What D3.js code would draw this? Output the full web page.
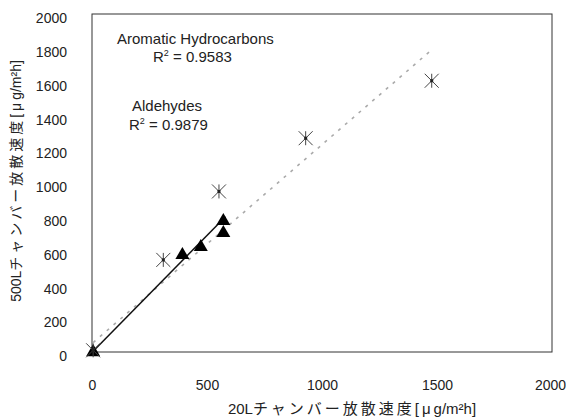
<!DOCTYPE html>
<html>
<head>
<meta charset="utf-8">
<script src="https://cdn.jsdelivr.net/npm/d3@7"></script>
<style>
  html, body { margin: 0; padding: 0; background: #fff; }
  svg { display: block; }
  text { font-family: "Liberation Sans", Arial, "Noto Sans CJK JP", sans-serif; fill: #222; }
</style>
</head>
<body>
<svg id="chart" width="566" height="418"></svg>
<script>
// Emission rates: 20 L chamber (x) vs 500 L chamber (y), µg/m²h
const aromaticX = [5, 310, 552, 929, 1477];
const aromaticY = [10, 545, 950, 1265, 1605];
const aldehydeX = [5, 393, 473, 571, 571];
const aldehydeY = [5, 580, 627, 781, 710];

// Linear trendline end points
const aromaticTrendX = [5, 1470];
const aromaticTrendY = [56, 1780];
const aldehydeTrendX = [5, 580];
const aldehydeTrendY = [5, 800];

const xTicks = [0, 500, 1000, 1500, 2000];
const yTicks = [0, 200, 400, 600, 800, 1000, 1200, 1400, 1600, 1800, 2000];

// Axis titles, split into Latin prefix, Japanese body and unit
const xTitleParts = ["20L", "チャンバー放散速度", "[μg/m²h]"];
const yTitleParts = ["500L", "チャンバー放散速度", "[μg/m²h]"];

const svg = d3.select("#chart");
const plotL = 92, plotR = 552, plotT = 14, plotB = 352;

const x = d3.scaleLinear().domain([0, 2000]).range([plotL, plotR]);
const y = d3.scaleLinear().domain([0, 2000]).range([plotB, plotT]);

// Plot frame
svg.append("rect")
  .attr("x", plotL).attr("y", plotT)
  .attr("width", plotR - plotL).attr("height", plotB - plotT)
  .attr("fill", "none").attr("stroke", "#333").attr("stroke-width", 1);

// Axes (labels only, no tick marks)
const yAxis = d3.axisLeft(y).tickValues(yTicks).tickSize(0).tickPadding(25).tickFormat(d3.format("d"));
const gy = svg.append("g").attr("transform", `translate(${plotL},0)`).call(yAxis);
gy.select(".domain").remove();
gy.selectAll("text").attr("font-size", 14).attr("dy", "0.62em")
  .style("font-family", "\"Liberation Sans\", Arial, sans-serif").attr("fill", "#222");

const xAxis = d3.axisBottom(x).tickValues(xTicks).tickSize(0).tickPadding(28).tickFormat(d3.format("d"));
const gx = svg.append("g").attr("transform", `translate(0,${plotB})`).call(xAxis);
gx.select(".domain").remove();
gx.selectAll("text").attr("font-size", 14)
  .style("font-family", "\"Liberation Sans\", Arial, sans-serif").attr("fill", "#222");
// keep the last label inside the page edge
gx.selectAll(".tick").filter(d => d === 2000).select("text").attr("dx", -2);

// Axis title builder: wider spacing for the Japanese run, a gap around µ
function axisTitle(sel, parts, size) {
  sel.attr("text-anchor", "middle").attr("font-size", size);
  sel.append("tspan").text(parts[0]);
  sel.append("tspan").attr("letter-spacing", 3).text(parts[1]);
  const unit = parts[2];
  sel.append("tspan").text(unit.slice(0, 1));
  sel.append("tspan").attr("dx", 3).text(unit.slice(1, 2));
  sel.append("tspan").attr("dx", 3).text(unit.slice(2));
}

axisTitle(svg.append("text").attr("x", 352).attr("y", 414), xTitleParts, 15);
axisTitle(svg.append("text").attr("transform", "translate(21,181) rotate(-90)"), yTitleParts, 14);

// Trendlines
const line = d3.line().x(d => x(d[0])).y(d => y(d[1]));
svg.append("path")
  .datum(d3.zip(aromaticTrendX, aromaticTrendY))
  .attr("d", line)
  .attr("fill", "none").attr("stroke", "#aaa").attr("stroke-width", 1.6)
  .attr("stroke-dasharray", "3,6");
svg.append("path")
  .datum(d3.zip(aldehydeTrendX, aldehydeTrendY))
  .attr("d", line)
  .attr("fill", "none").attr("stroke", "#111").attr("stroke-width", 1.5);

// Aldehydes: filled triangles
const tri = d3.symbol().type(d3.symbolTriangle).size(85);
svg.append("g").selectAll("path")
  .data(d3.zip(aldehydeX, aldehydeY))
  .join("path")
  .attr("d", tri)
  .attr("transform", d => `translate(${x(d[0])},${y(d[1]) + 1})`)
  .attr("fill", "#000");

// Aromatic hydrocarbons: asterisk markers
const star = svg.append("g").selectAll("g")
  .data(d3.zip(aromaticX, aromaticY))
  .join("g")
  .attr("transform", d => `translate(${x(d[0])},${y(d[1])})`);
const r = 7;
star.append("path")
  .attr("d", `M0,${-r}V${r}M${-r},${-r}L${r},${r}M${-r},${r}L${r},${-r}`)
  .attr("stroke", "#444").attr("stroke-width", 1).attr("fill", "none");
star.append("rect")
  .attr("x", -1.5).attr("y", -1.5).attr("width", 3).attr("height", 3)
  .attr("fill", "#222");

// Annotations
function rLabel(xp, yp, val) {
  const t = svg.append("text").attr("x", xp).attr("y", yp).attr("font-size", 15);
  t.append("tspan").text("R");
  t.append("tspan").attr("font-size", 9).attr("dy", -6).text("2");
  t.append("tspan").attr("dy", 6).text(" = " + val);
}
svg.append("text").attr("x", 117).attr("y", 44).attr("font-size", 15).text("Aromatic Hydrocarbons");
rLabel(153, 62, "0.9583");
svg.append("text").attr("x", 132).attr("y", 111).attr("font-size", 15).text("Aldehydes");
rLabel(129, 130, "0.9879");
</script>
</body>
</html>
